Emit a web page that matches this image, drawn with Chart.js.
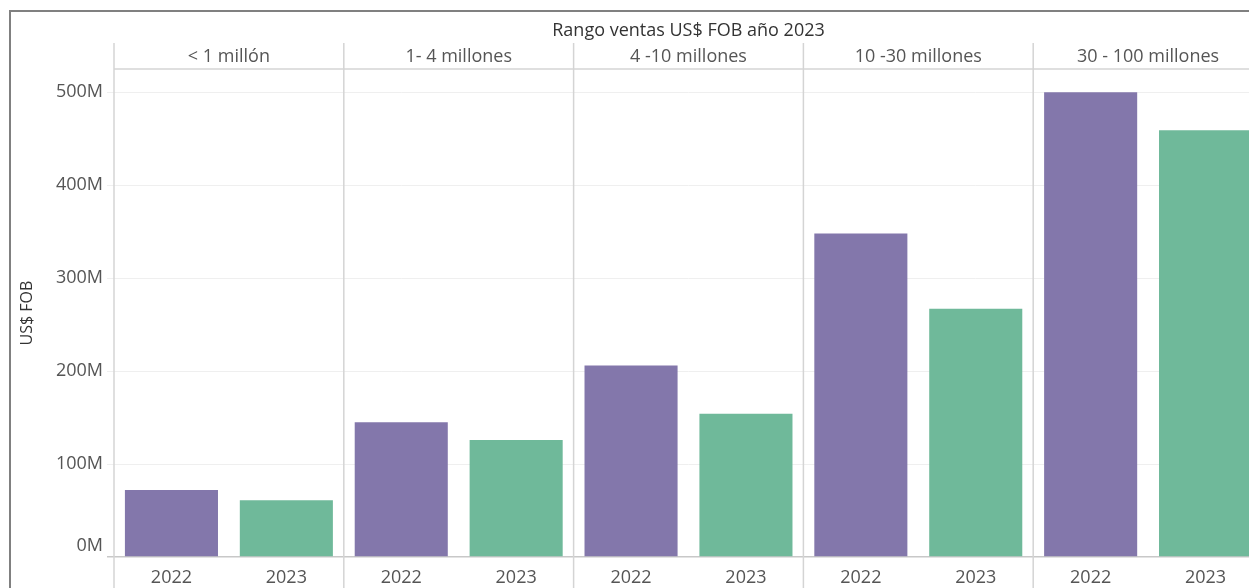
<!DOCTYPE html>
<html>
<head>
<meta charset="utf-8">
<script src="https://cdn.jsdelivr.net/npm/chart.js@4.4.1/dist/chart.umd.min.js"></script>
<style>
  html, body { margin: 0; padding: 0; background: #fff; overflow: hidden; }
  #wrap { position: relative; width: 1249px; height: 588px; overflow: hidden; }
  #frame { position: absolute; left: 9px; top: 10px; right: -10px; bottom: -10px;
           border-left: 2px solid #808080; border-top: 2px solid #808080; pointer-events: none; }
  canvas { position: absolute; left: 0; top: 0; }
</style>
</head>
<body>
<div id="wrap">
  <canvas id="myChart" width="1265" height="588"></canvas>
  <div id="frame"></div>
</div>
<script>
  // data (values in US$)
  var facets = ['< 1 millón', '1- 4 millones', '4 -10 millones', '10 -30 millones', '30 - 100 millones'];
  var years = ['2022', '2023'];
  var ventas2022 = [72e6, 145e6, 206e6, 348e6, 500e6];
  var ventas2023 = [61e6, 126e6, 154e6, 267e6, 459e6];
  var yTicks = [0, 100e6, 200e6, 300e6, 400e6, 500e6];

  var chartTitle = 'Rango ventas US$ FOB año 2023';
  var yTitle = 'US$ FOB';
  var colors = { '2022': '#8377ab', '2023': '#6fb99a' };
  var fontName = "'Open Sans'";

  var labels = [];
  var values = [];
  var barColors = [];
  for (var i = 0; i < facets.length; i++) {
    labels.push(years[0], years[1]);
    values.push(ventas2022[i], ventas2023[i]);
    barColors.push(colors['2022'], colors['2023']);
  }

  function fmt(v) { return (v / 1e6) + 'M'; }

  // panel lines, header row, title and the lifted 0M label (tableau style)
  var facetPlugin = {
    id: 'facets',
    afterDraw: function(chart) {
      var ctx = chart.ctx;
      var area = chart.chartArea;
      var x = chart.scales.x;
      var y = chart.scales.y;
      var half = (x.getPixelForValue(1) - x.getPixelForValue(0)) / 2;
      ctx.save();
      ctx.strokeStyle = '#d4d4d4';
      ctx.lineWidth = 1.5;
      ctx.beginPath();
      ctx.moveTo(area.left, area.top);
      ctx.lineTo(area.right, area.top);
      ctx.stroke();
      for (var i = 0; i <= facets.length; i++) {
        var px = x.getPixelForValue(i * 2) - half;
        ctx.beginPath();
        ctx.moveTo(px, 43);
        ctx.lineTo(px, chart.height);
        ctx.stroke();
      }
      ctx.textAlign = 'center';
      ctx.textBaseline = 'middle';
      ctx.fillStyle = '#555';
      ctx.font = '18px ' + fontName;
      for (var j = 0; j < facets.length; j++) {
        var cx = (x.getPixelForValue(j * 2) + x.getPixelForValue(j * 2 + 1)) / 2;
        ctx.fillText(facets[j], cx, 57);
      }
      ctx.fillStyle = '#333';
      ctx.fillText(chartTitle, (area.left + area.right) / 2, 31);
      // zero label sits above the baseline
      ctx.textAlign = 'right';
      ctx.fillStyle = '#555';
      ctx.fillText(fmt(yTicks[0]), area.left - 11, y.getPixelForValue(yTicks[0]) - 11);
      ctx.restore();
    }
  };

  var ctx = document.getElementById('myChart').getContext('2d');
  var chart = new Chart(ctx, {
    type: 'bar',
    data: {
      labels: labels,
      datasets: [{
        label: 'US$ FOB',
        data: values,
        backgroundColor: barColors,
        barPercentage: 0.81,
        categoryPercentage: 1.0
      }]
    },
    options: {
      responsive: false,
      animation: false,
      layout: { padding: { top: 69, right: 2, left: 0, bottom: 0 } },
      plugins: {
        legend: { display: false },
        tooltip: { enabled: false }
      },
      scales: {
        x: {
          grid: { display: false },
          border: { display: false },
          ticks: { color: '#555', font: { family: fontName, size: 18 }, padding: 2, maxRotation: 0 },
          afterFit: function(scale) { scale.height = 31; }
        },
        y: {
          min: 0,
          max: 525e6,
          afterBuildTicks: function(scale) {
            scale.ticks = yTicks.map(function(v) { return { value: v }; });
          },
          grid: {
            color: function(c) { return c.tick && c.tick.value === 0 ? '#c8c8c8' : '#efefef'; },
            lineWidth: function(c) { return c.tick && c.tick.value === 0 ? 1.5 : 1; },
            tickLength: 7
          },
          border: { display: false },
          ticks: {
            color: '#555',
            font: { family: fontName, size: 18 },
            padding: 4,
            callback: function(value) { return value === 0 ? '' : fmt(value); }
          },
          title: {
            display: true,
            text: yTitle,
            color: '#333',
            font: { family: fontName, size: 16 },
            padding: { top: 18, bottom: 0 }
          },
          afterFit: function(scale) { scale.width = 114; }
        }
      }
    },
    plugins: [facetPlugin]
  });
</script>
</body>
</html>
